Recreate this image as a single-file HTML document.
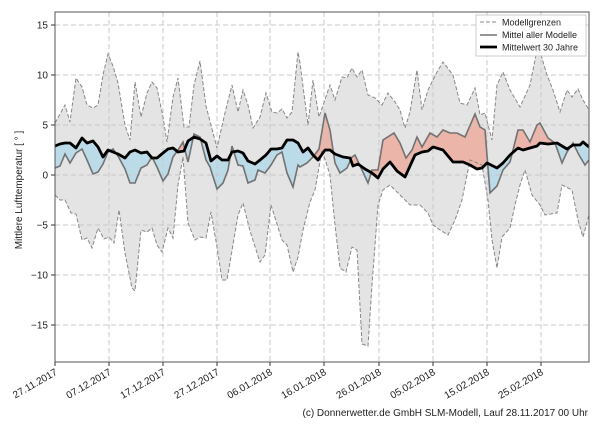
<!DOCTYPE html>
<html><head><meta charset="utf-8"><style>
body{margin:0;background:#fff;width:600px;height:420px;overflow:hidden}
svg text{font-family:"Liberation Sans","DejaVu Sans",sans-serif;fill:#222}
</style></head><body>
<svg id="s" width="600" height="420" viewBox="0 0 600 420" xmlns="http://www.w3.org/2000/svg">
<defs>
<clipPath id="plot"><rect x="55" y="12" width="534" height="350"/></clipPath>
<clipPath id="aboveC"><polygon id="cA" points=""/></clipPath>
<clipPath id="belowC"><polygon id="cB" points=""/></clipPath>
</defs>
<g clip-path="url(#plot)">
<polygon id="band" fill="#e4e4e4" points=""/>
<g clip-path="url(#aboveC)"><polygon id="red" fill="#ebb5a9" points=""/></g>
<g clip-path="url(#belowC)"><polygon id="blue" fill="#bcdbe9" points=""/></g>
<g id="grid" stroke="#c8c8c8" stroke-width="1" stroke-dasharray="5,3"></g>
<polyline id="up" fill="none" stroke="#888" stroke-width="1" stroke-dasharray="4,2" points=""/>
<polyline id="lo" fill="none" stroke="#888" stroke-width="1" stroke-dasharray="4,2" points=""/>
<polyline id="mm" fill="none" stroke="#727272" stroke-width="1.6" points=""/>
<polyline id="cm" fill="none" stroke="#000" stroke-width="2.8" stroke-linejoin="round" points=""/>
</g>
<rect x="55" y="12" width="534" height="350" fill="none" stroke="#555" stroke-width="1"/>
<g id="ticks"></g>
<g font-size="9">
<rect x="476" y="15" width="110" height="41" fill="#fff" fill-opacity="0.85" stroke="#ccc"/>
<line x1="480" y1="22" x2="497" y2="22" stroke="#888" stroke-dasharray="4,2"/>
<text x="502" y="25.5">Modellgrenzen</text>
<line x1="480" y1="35" x2="497" y2="35" stroke="#727272" stroke-width="1.6"/>
<text x="502" y="38">Mittel aller Modelle</text>
<line x1="480" y1="47" x2="497" y2="47" stroke="#000" stroke-width="2.8"/>
<text x="502" y="50.5">Mittelwert 30 Jahre</text>
</g>
<text x="22" y="190" font-size="10" transform="rotate(-90 22 190)" text-anchor="middle">Mittlere Lufttemperatur [ ° ]</text>
<text x="588" y="416" font-size="10" text-anchor="end">(c) Donnerwetter.de GmbH SLM-Modell, Lauf 28.11.2017 00 Uhr</text>
</svg>
<script>
var U=[[55,5.2],[65,7],[70,5.3],[76,9.7],[82,8.8],[87,7],[93,6.7],[98,7],[103,10],[108,12.1],[113,10.9],[118,9.2],[125,5],[130,3.5],[135,9.3],[141,5.8],[147,8.2],[152,9.3],[157,8.7],[163,5.8],[167,3.3],[173,7.8],[178,9.7],[184,4.8],[189,4.8],[194,9],[200,11.4],[206,6.9],[217,2.7],[224,5.8],[232,9],[238,6.3],[243,8.5],[248,7],[253,4.7],[260,5.8],[266,8.2],[272,6.3],[277,6.2],[282,6.6],[287,5.7],[292,6.3],[298,12.3],[300,11.2],[308,5],[313,9.5],[319,5.8],[330,9],[335,7.5],[342,9.8],[347,9.7],[352,10.7],[357,9.8],[362,10.5],[368,8],[375,7.7],[382,7],[388,8.2],[395,7.3],[400,6.5],[405,4.7],[410,6.3],[417,10.5],[422,6.5],[428,8.5],[437,10.3],[443,11.3],[453,10],[460,7.2],[467,7],[475,8.7],[480,6],[485,6.2],[492,3.5],[497,9],[503,10.3],[510,8.5],[520,6.8],[530,9],[538,13],[547,10],[553,8.5],[560,6.3],[567,8.5],[572,7.8],[578,8.6],[583,7.5],[589,6.5]];
var L=[[55,-2],[60,-2.5],[65,-2.5],[71,-3.8],[76,-3.9],[82,-6.5],[87,-6.3],[92,-7.3],[98,-5.3],[104,-6.4],[109,-6.2],[114,-6.8],[119,-3.5],[125,-7.8],[132,-11.3],[135,-11.6],[141,-5.5],[147,-5.7],[152,-5.3],[157,-7],[162,-7.7],[168,-5.3],[173,-6.3],[178,-1],[183,1.8],[188,-4.8],[195,-6.5],[200,-6.2],[206,-6.3],[211,-3.7],[217,-7.2],[222,-10.5],[227,-10.5],[238,-4],[243,-2.8],[250,-5.6],[260,-8.7],[265,-8],[271,-3],[282,-6.5],[287,-7],[293,-9.7],[298,-8.2],[303,-5.5],[310,-2.7],[315,-1.5],[322,2.5],[330,0],[335,-5],[340,-9.3],[346,-9.7],[352,-7.2],[357,-7.5],[362,-16.9],[368,-17.1],[372,-11],[378,-3],[383,-1.5],[390,-1],[400,-2],[410,-3],[420,-3],[428,-3.8],[433,-5],[440,-5.5],[448,-6],[455,-4.5],[462,-2.5],[470,1.5],[482,1],[488,-2.5],[492,-6.5],[497,-9.3],[502,-6.2],[510,-5.3],[515,-3],[520,-1],[525,0.5],[532,-2],[540,-3],[545,-4],[557,-3.8],[562,-1],[572,-1.5],[578,-4.5],[583,-6.2],[589,-4]];
var M=[[55,0.7],[60,0.9],[65,2.1],[70,1.2],[76,2.2],[82,2.6],[87,1.5],[93,0.1],[98,0.3],[103,1.1],[108,2.3],[113,2.6],[118,1.9],[125,0.6],[130,-0.8],[135,-0.8],[141,0.7],[147,1],[152,1.8],[157,0.8],[163,-0.6],[168,0.1],[173,1.8],[178,2.5],[183,3.3],[188,1.3],[194,4.1],[200,3.8],[206,1.5],[210,0.8],[217,-1.4],[223,-0.8],[228,0.5],[232,2.9],[238,1],[243,0.9],[248,-0.8],[255,-0.5],[258,0.5],[265,0.2],[271,1],[277,2],[282,2.3],[287,0.2],[293,-1.2],[298,1],[300,0.8],[307,1.2],[313,1.8],[319,2.6],[325,6.2],[330,4.5],[335,1.2],[340,0.2],[347,0.7],[352,1.8],[355,2],[362,0.5],[368,-0.8],[372,0.5],[378,0.5],[383,3.5],[394,4.2],[400,3.2],[406,1.7],[412,2.5],[417,3.8],[422,2.8],[430,4.2],[437,3.8],[443,4.5],[450,4.2],[457,4.2],[465,3.8],[475,6.1],[480,4.8],[485,4.5],[490,-1.8],[497,-1.1],[503,0.5],[510,1.3],[518,4.5],[523,4.5],[530,3.3],[537,5],[540,5.2],[548,3.7],[555,3.2],[562,1.2],[567,2.3],[573,3.2],[579,2],[585,1],[589,1.5]];
var C=[[55,2.9],[60,3.1],[65,3.2],[70,3.2],[76,2.7],[82,3.7],[87,3.2],[93,3.4],[98,2.8],[103,1.8],[108,2.5],[113,2.3],[118,2.1],[125,1.7],[130,2.3],[135,2.5],[141,2.2],[147,2.3],[152,1.7],[157,1.7],[163,2.2],[168,2.6],[173,2.7],[178,2.3],[184,2.4],[188,3.4],[194,3.8],[200,3.6],[206,3.2],[211,1.4],[217,1.9],[222,1.5],[228,1.5],[232,2.3],[238,2.4],[243,2.2],[248,1.4],[255,1.1],[260,1.5],[266,2],[271,2.6],[277,2.6],[282,2.7],[287,3.5],[293,3.5],[298,3.2],[303,2.3],[308,2.7],[313,2],[318,1.5],[325,2.5],[330,2.5],[335,2.1],[343,1.8],[350,1.7],[353,0.9],[358,1.1],[365,0.6],[372,0.2],[378,-0.3],[383,0.6],[390,1.3],[397,0.4],[405,-0.2],[415,2],[422,2.3],[428,2.4],[433,2.8],[443,2.5],[453,1.3],[463,1.3],[470,1],[477,0.6],[482,0.7],[487,1.2],[497,0.7],[503,1.2],[510,2],[518,2.7],[523,2.5],[530,2.7],[537,2.9],[540,3.2],[548,3.1],[557,3.2],[562,2.9],[567,2.6],[573,3],[580,3],[583,3.3],[589,2.8]];
function Y(t){return 175-10*t}
function pts(a){return a.map(function(p){return p[0]+","+Y(p[1]).toFixed(1)}).join(" ")}
function rev(a){return a.slice().reverse()}
function g(id){return document.getElementById(id)}
g("band").setAttribute("points",pts(U)+" "+pts(rev(L)));
g("up").setAttribute("points",pts(U));
g("lo").setAttribute("points",pts(L));
g("mm").setAttribute("points",pts(M));
g("cm").setAttribute("points",pts(C));
g("cA").setAttribute("points","55,0 "+pts(C)+" 589,0");
g("cB").setAttribute("points","55,420 "+pts(C)+" 589,420");
g("red").setAttribute("points","55,420 "+pts(M)+" 589,420");
g("blue").setAttribute("points","55,0 "+pts(M)+" 589,0");
var NS="http://www.w3.org/2000/svg";
function el(p,n,a,t){var e=document.createElementNS(NS,n);for(var k in a)e.setAttribute(k,a[k]);if(t)e.textContent=t;p.appendChild(e);return e}
var gr=g("grid"),tk=g("ticks");
var xs=[55,109,163,217,270,324,379,433,487,541];
var lab=["27.11.2017","07.12.2017","17.12.2017","27.12.2017","06.01.2018","16.01.2018","26.01.2018","05.02.2018","15.02.2018","25.02.2018"];
xs.forEach(function(x,i){
 if(i>0)el(gr,"line",{x1:x,y1:12,x2:x,y2:362});
 el(tk,"line",{x1:x,y1:362,x2:x,y2:366,stroke:"#333"});
 el(tk,"text",{x:x+3,y:374,"font-size":"10","text-anchor":"end",transform:"rotate(-30 "+(x+3)+" 374)"},lab[i]);
});
[15,10,5,0,-5,-10,-15].forEach(function(t){
 var y=Y(t);
 el(gr,"line",{x1:55,y1:y,x2:589,y2:y});
 el(tk,"line",{x1:51,y1:y,x2:55,y2:y,stroke:"#333"});
 el(tk,"text",{x:48,y:y+3.5,"font-size":"10","text-anchor":"end"},t<0?"\u2212"+(-t):""+t);
});
</script>
</body></html>
